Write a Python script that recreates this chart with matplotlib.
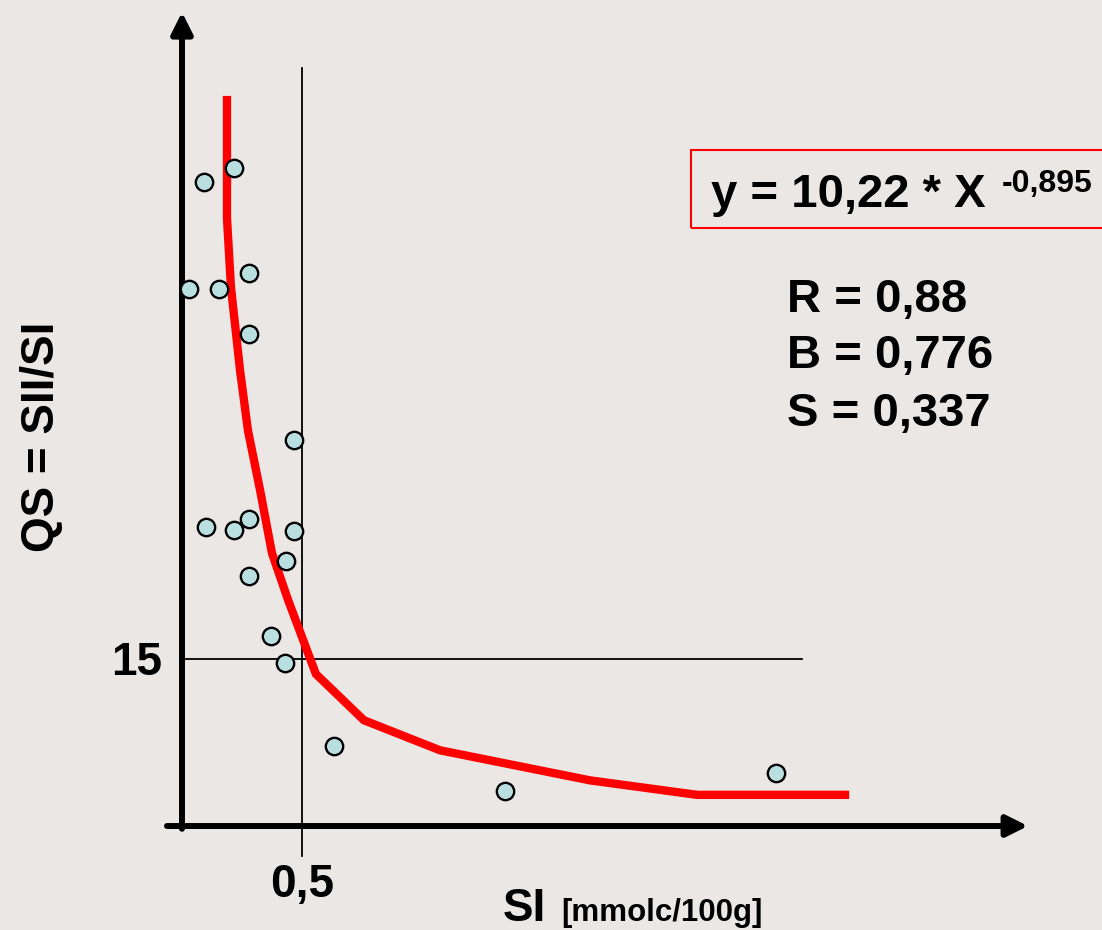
import matplotlib
matplotlib.use("Agg")
import matplotlib.pyplot as plt
from matplotlib.patches import Rectangle

# measured points: SI [mmolc/100g] vs QS = SII/SI
si = [0.092, 0.217, 0.029, 0.154, 0.279, 0.279, 0.467, 0.100, 0.217,
      0.279, 0.467, 0.433, 0.279, 0.371, 0.429, 0.633, 1.346, 2.475]
qs = [57.8, 59.1, 48.2, 48.2, 49.7, 44.2, 34.7, 26.9, 26.6,
      27.6, 26.5, 23.8, 22.5, 17.1, 14.6, 7.2, 3.1, 4.8]

# fitted curve as drawn (y = 10,22 * X^-0,895)
fit_x = [0.1875, 0.1875, 0.204, 0.242, 0.275, 0.325, 0.375, 0.442, 0.558,
         0.758, 1.075, 1.700, 2.146, 2.7625]
fit_y = [65.2, 54.6, 48.4, 40.9, 35.5, 30.2, 24.5, 20.3, 13.65,
         9.5, 6.8, 4.1, 2.8, 2.8]

x_ref = 0.5
y_ref = 15
stats = ["R = 0,88", "B = 0,776", "S = 0,337"]

bg = "#EAE7E4"
font = ["Liberation Sans", "DejaVu Sans"]

fig = plt.figure(figsize=(11.02, 9.3), dpi=100, facecolor=bg)
ax = fig.add_axes([0, 0, 1, 1])
ax.set_facecolor(bg)
ax.set_xlim(-0.7583, 3.8333)
ax.set_ylim(-9.34, 74.19)
ax.axis("off")

# axes with arrows
ax.annotate("", xy=(3.525, 0), xytext=(-0.0625, 0),
            arrowprops=dict(arrowstyle="-|>", lw=4.3, color="black",
                            mutation_scale=32, shrinkA=0, shrinkB=0))
ax.annotate("", xy=(0, 73.1), xytext=(0, -0.25),
            arrowprops=dict(arrowstyle="-|>", lw=4.3, color="black",
                            mutation_scale=32, shrinkA=0, shrinkB=0))

# reference lines
ax.plot([x_ref, x_ref], [-2.69, 68.1], color="black", lw=1.3, zorder=2)
ax.plot([0, 2.583], [y_ref, y_ref], color="black", lw=1.3, zorder=2)

# fit curve + points
ax.plot(fit_x, fit_y, color="#FF0000", lw=6, zorder=3, solid_joinstyle="miter")
ax.plot(si, qs, "o", ms=12.5, mfc="#B9DFE0", mec="black", mew=1.7, zorder=4)

# tick labels
ax.text(-0.0833, 13.56, "15", ha="right", va="baseline", fontsize=33,
        fontweight="bold", family=font)
ax.text(x_ref, -6.38, "0,5", ha="center", va="baseline", fontsize=33,
        fontweight="bold", family=font)

# axis titles
ax.text(1.335, -8.55, "SI", ha="left", va="baseline", fontsize=33,
        fontweight="bold", family=font)
ax.text(1.58, -8.55, "[mmolc/100g]", ha="left", va="baseline", fontsize=22.5,
        fontweight="bold", family=font)
ax.text(-0.583, 34.94, "QS = SII/SI", ha="center", va="center", rotation=90,
        fontsize=33, fontweight="bold", family=font)

# equation box
ax.add_patch(Rectangle((2.121, 53.71), 1.8, 7.0, fill=False, edgecolor="#FF0000",
                       lw=1.5, clip_on=False, zorder=2))
ax.text(2.204, 55.6, "y = 10,22 * X", ha="left", va="baseline", fontsize=34,
        fontweight="bold", family=font)
ax.text(3.415, 56.95, "-0,895", ha="left", va="baseline", fontsize=23,
        fontweight="bold", family=font)

for s, yb in zip(stats, [46.17, 41.14, 35.93]):
    ax.text(2.521, yb, s, ha="left", va="baseline", fontsize=34,
            fontweight="bold", family=font)

fig.savefig("out.png", dpi=100, facecolor=bg)
